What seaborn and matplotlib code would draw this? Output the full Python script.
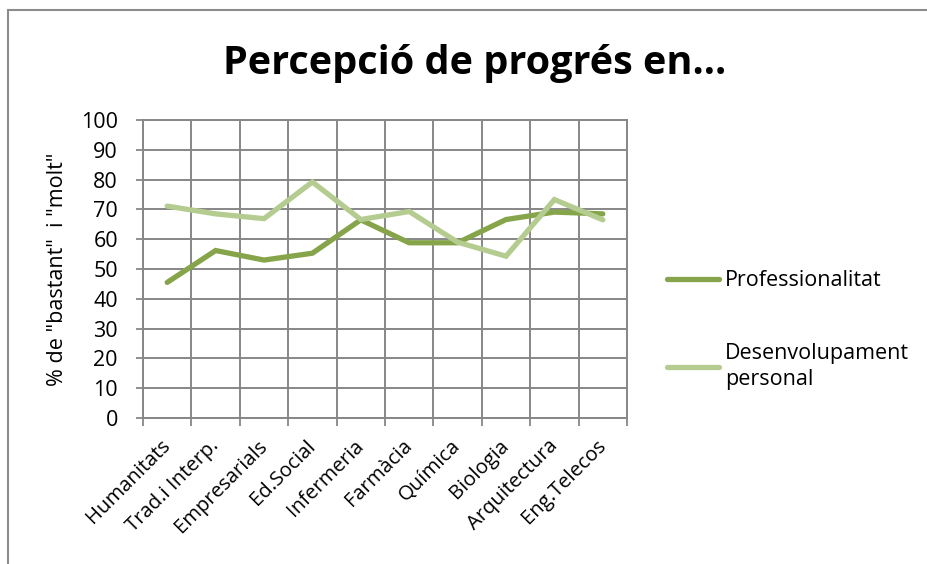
import matplotlib
matplotlib.use("Agg")
import matplotlib.pyplot as plt
from matplotlib.patches import Rectangle
import numpy as np
import pandas as pd
import seaborn as sns

# data
carreres = ["Humanitats", "Trad.i Interp.", "Empresarials", "Ed.Social", "Infermeria",
            "Farmàcia", "Química", "Biologia", "Arquitectura", "Eng.Telecos"]
professionalitat = [45.5, 56.2, 53.0, 55.3, 66.5, 58.8, 58.8, 66.6, 69.1, 68.5]
desenvolupament = [71.1, 68.5, 66.9, 79.2, 66.6, 69.3, 59.0, 54.3, 73.3, 66.5]
series_names = ["Professionalitat", "Desenvolupament\npersonal"]
colors = ["#86A44A", "#B4CC90"]
yticks = [0, 10, 20, 30, 40, 50, 60, 70, 80, 90, 100]

df = pd.DataFrame({
    "carrera": carreres * 2,
    "valor": professionalitat + desenvolupament,
    "serie": [series_names[0]] * len(carreres) + [series_names[1]] * len(carreres),
})
df["pos"] = list(range(len(carreres))) * 2

sns.set_style("white")
plt.rcParams["font.family"] = ["Open Sans", "DejaVu Sans"]
plt.rcParams["text.color"] = "black"
plt.rcParams["xtick.color"] = "black"
plt.rcParams["ytick.color"] = "black"
plt.rcParams["axes.labelcolor"] = "black"
grid_col = "#878787"
fs = 15.5

fig = plt.figure(figsize=(9.28, 5.64), dpi=100)
ax = fig.add_axes([143 / 928, 1 - 418 / 564, (627 - 143) / 928, (418 - 120) / 564])

sns.lineplot(data=df, x="pos", y="valor", hue="serie", palette=colors,
             linewidth=3.8, sort=False, ax=ax, legend=True)
for ln in ax.lines:
    ln.set_solid_capstyle("round")
    ln.set_solid_joinstyle("miter")

ax.set_xlim(-0.5, len(carreres) - 0.5)
ax.set_ylim(0, 100)
ax.set_yticks(yticks)
ax.set_yticklabels([str(v) for v in yticks], fontsize=fs)
ax.set_xticks(np.arange(-0.5, len(carreres)))
ax.set_xticklabels([])
ax.set_xticks(range(len(carreres)), minor=True)
ax.set_xticklabels(carreres, minor=True, rotation=45, ha="right",
                   rotation_mode="anchor", va="center", fontsize=14.6)
ax.tick_params(axis="x", which="major", direction="out", length=6, width=1.3,
               color=grid_col, bottom=True)
ax.tick_params(axis="x", which="minor", length=0, pad=18, bottom=True)
ax.tick_params(axis="y", direction="out", length=5, width=1.3, color=grid_col,
               left=True, pad=13)
ax.grid(True, which="major", color=grid_col, linewidth=1.4)
ax.set_axisbelow(True)
for sp in ax.spines.values():
    sp.set_color(grid_col)
    sp.set_linewidth(1.4)
ax.set_xlabel("")
ax.set_ylabel('% de "bastant"  i "molt"', fontsize=fs, labelpad=9)

handles, labels = ax.get_legend_handles_labels()
ax.get_legend().remove()
leg = fig.legend(handles, labels, loc="center left",
                 bbox_to_anchor=(667 / 928, 1 - 330 / 564),
                 frameon=False, fontsize=fs, handlelength=2.4, handletextpad=0.28,
                 labelspacing=2.4, borderpad=0, borderaxespad=0)
for t in leg.get_texts():
    t.set_linespacing(1.3)

fig.suptitle("Percepció de progrés en...", x=475 / 928, y=1 - 44 / 564,
             fontsize=28.5, fontweight="bold")

fig.patches.append(Rectangle((8 / 928, -0.1), 1.2, 1.1 - 10 / 564, transform=fig.transFigure,
                             fill=False, edgecolor="#8c8c8c", linewidth=1.5))

fig.savefig("out.png", dpi=100)
